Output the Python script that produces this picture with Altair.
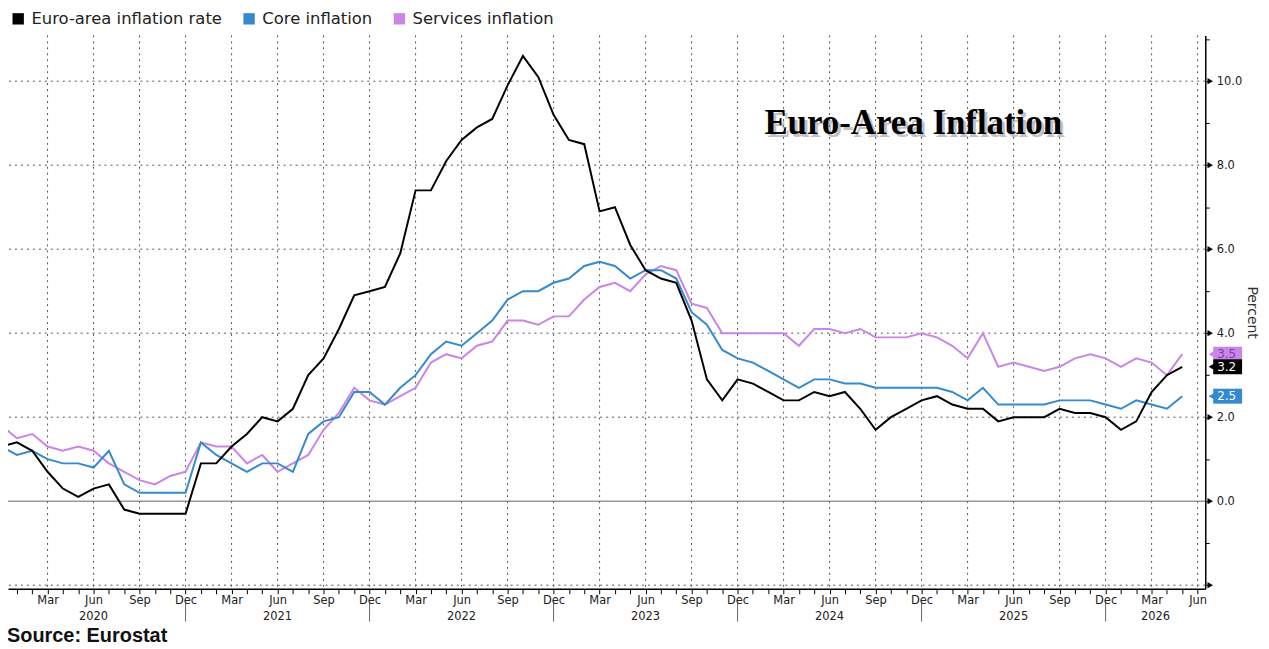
import altair as alt
import pandas as pd

# ---------------- data (monthly, Dec 2019 .. May 2026) ----------------
series_names = ["Euro-area inflation rate", "Core inflation", "Services inflation"]
series_colors = ["#000000", "#3489cf", "#c985e8"]

headline = [1.3,
            1.4, 1.2, 0.7, 0.3, 0.1, 0.3, 0.4, -0.2, -0.3, -0.3, -0.3, -0.3,
            0.9, 0.9, 1.3, 1.6, 2.0, 1.9, 2.2, 3.0, 3.4, 4.1, 4.9, 5.0,
            5.1, 5.9, 7.4, 7.4, 8.1, 8.6, 8.9, 9.1, 9.9, 10.6, 10.1, 9.2,
            8.6, 8.5, 6.9, 7.0, 6.1, 5.5, 5.3, 5.2, 4.3, 2.9, 2.4, 2.9,
            2.8, 2.6, 2.4, 2.4, 2.6, 2.5, 2.6, 2.2, 1.7, 2.0, 2.2, 2.4,
            2.5, 2.3, 2.2, 2.2, 1.9, 2.0, 2.0, 2.0, 2.2, 2.1, 2.1, 2.0,
            1.7, 1.9, 2.6, 3.0, 3.2]
core = [1.3,
        1.1, 1.2, 1.0, 0.9, 0.9, 0.8, 1.2, 0.4, 0.2, 0.2, 0.2, 0.2,
        1.4, 1.1, 0.9, 0.7, 0.9, 0.9, 0.7, 1.6, 1.9, 2.0, 2.6, 2.6,
        2.3, 2.7, 3.0, 3.5, 3.8, 3.7, 4.0, 4.3, 4.8, 5.0, 5.0, 5.2,
        5.3, 5.6, 5.7, 5.6, 5.3, 5.5, 5.5, 5.3, 4.5, 4.2, 3.6, 3.4,
        3.3, 3.1, 2.9, 2.7, 2.9, 2.9, 2.8, 2.8, 2.7, 2.7, 2.7, 2.7,
        2.7, 2.6, 2.4, 2.7, 2.3, 2.3, 2.3, 2.3, 2.4, 2.4, 2.4, 2.3,
        2.2, 2.4, 2.3, 2.2, 2.5]
services = [1.8,
            1.5, 1.6, 1.3, 1.2, 1.3, 1.2, 0.9, 0.7, 0.5, 0.4, 0.6, 0.7,
            1.4, 1.3, 1.3, 0.9, 1.1, 0.7, 0.9, 1.1, 1.7, 2.1, 2.7, 2.4,
            2.3, 2.5, 2.7, 3.3, 3.5, 3.4, 3.7, 3.8, 4.3, 4.3, 4.2, 4.4,
            4.4, 4.8, 5.1, 5.2, 5.0, 5.4, 5.6, 5.5, 4.7, 4.6, 4.0, 4.0,
            4.0, 4.0, 4.0, 3.7, 4.1, 4.1, 4.0, 4.1, 3.9, 3.9, 3.9, 4.0,
            3.9, 3.7, 3.4, 4.0, 3.2, 3.3, 3.2, 3.1, 3.2, 3.4, 3.5, 3.4,
            3.2, 3.4, 3.3, 3.0, 3.5]

quarter_labels = {3: "Mar", 6: "Jun", 9: "Sep", 0: "Dec"}
years = [2020, 2021, 2022, 2023, 2024, 2025, 2026]
y_ticks = [-2, -1, 0, 1, 2, 3, 4, 5, 6, 7, 8, 9, 10, 11]
grid_values = [-2, 2, 4, 6, 8, 10]

# ---------------- layout ----------------
W, H = 1203, 556
X_MIN, X_MAX = 0.42, 78.5
Y_MIN, Y_MAX = -2.085, 11.09
FONT = "DejaVu Sans"

xs = alt.Scale(domain=[X_MIN, X_MAX], nice=False, zero=False)
ys = alt.Scale(domain=[Y_MIN, Y_MAX], nice=False, zero=False)
cs = alt.Scale(domain=series_names, range=series_colors)

n = len(headline)
idx = list(range(n))
all_vals = {"Euro-area inflation rate": headline, "Core inflation": core,
            "Services inflation": services}

label_expr = " : ".join(
    f"datum.value % 12 == {k} ? '{v}'" for k, v in quarter_labels.items()
) + " : ''"

x_axis = alt.Axis(
    values=list(range(1, int(X_MAX) + 1)), tickSize=5, tickColor="black",
    domainColor="black", domainWidth=1.5, labelExpr=label_expr,
    labelFont=FONT, labelFontSize=11.5, labelColor="#222", labelPadding=1,
    labelOverlap=False, labelFlush=False, grid=False, title=None, zindex=1)
y_axis = alt.Axis(
    orient="right", values=y_ticks, tickSize=4, tickColor="black",
    domainColor="black", domainWidth=1.5,
    labelExpr="datum.value >= 0 && datum.value % 2 == 0 ? format(datum.value, '.1f') : ''",
    labelFont=FONT, labelFontSize=11.5, labelColor="#222", labelPadding=7,
    labelOverlap=False, grid=False, title="Percent", titleFont=FONT,
    titleFontSize=14, titleFontWeight="normal", titleColor="#333",
    titlePadding=3, zindex=1)


def X(field):
    return alt.X(field, scale=xs, axis=x_axis)


def Y(field):
    return alt.Y(field, scale=ys, axis=y_axis)


# ---------------- grid ----------------
quarters = [i for i in range(3, int(X_MAX) + 1) if i % 3 == 0]
vgrid = alt.Chart(pd.DataFrame({"q": quarters})).mark_rule(
    color="#555", strokeWidth=1, strokeDash=[2, 4]
).encode(x=X("q:Q"))

hgrid = alt.Chart(pd.DataFrame({"g": grid_values})).mark_rule(
    color="#555", strokeWidth=1, strokeDash=[2, 4]
).encode(y=Y("g:Q"))

zero_line = alt.Chart(pd.DataFrame({"z": [0]})).mark_rule(
    color="#666", strokeWidth=1
).encode(y=Y("z:Q"))

# year separators and year labels under the month labels
year_starts = [12 * k for k in range(len(years))]
sep = alt.Chart(pd.DataFrame({"s": year_starts})).mark_rule(
    color="#666", strokeWidth=1
).encode(x=X("s:Q"), y=alt.value(H + 13), y2=alt.value(H + 33))

year_centers = [min(s + 6, (s + X_MAX) / 2) for s in year_starts]
year_df = pd.DataFrame({"c": year_centers, "yr": [str(y) for y in years]})
year_text = alt.Chart(year_df).mark_text(
    font=FONT, fontSize=11.5, color="#222", baseline="middle"
).encode(x=X("c:Q"), y=alt.value(H + 28), text="yr:N")

# ---------------- lines ----------------
line_layers = []
for name in ["Services inflation", "Core inflation", "Euro-area inflation rate"]:
    d = pd.DataFrame({"i": idx, "v": all_vals[name]})
    line_layers.append(
        alt.Chart(d).mark_line(strokeWidth=2, color=series_colors[series_names.index(name)])
        .encode(x=X("i:Q"), y=Y("v:Q"))
    )

# ---------------- end-value tags ----------------
tag_order = ["Services inflation", "Euro-area inflation rate", "Core inflation"]
tag_df = pd.DataFrame({
    "series": tag_order,
    "v": [all_vals[s][-1] for s in tag_order],
    "lab": [f"{all_vals[s][-1]:.1f}" for s in tag_order],
    "tc": ["#7d3fa0", "#ffffff", "#ffffff"],
})
tag_base = alt.Chart(tag_df)
tag_rect = tag_base.transform_calculate(
    lo="datum.v - 0.178", hi="datum.v + 0.178"
).mark_rect(opacity=1).encode(
    x=alt.value(W + 8), x2=alt.value(W + 37),
    y=Y("lo:Q"), y2="hi:Q",
    color=alt.Color("series:N", scale=cs, legend=alt.Legend(
        orient="none", legendX=2, legendY=-25, direction="horizontal",
        title=None, symbolType="square", symbolSize=130, symbolStrokeWidth=0,
        symbolOpacity=1, labelFont=FONT, labelFontSize=16.5, labelColor="#222",
        labelLimit=400, columnPadding=18, labelOffset=5, padding=0)),
)
tag_tri = tag_base.mark_point(shape="triangle-left", filled=True, size=70, opacity=1).encode(
    x=alt.value(W + 7), y=Y("v:Q"),
    color=alt.Color("series:N", scale=cs, legend=None),
)
tag_txt = tag_base.mark_text(font=FONT, fontSize=12, align="left", baseline="middle").encode(
    x=alt.value(W + 12), y=Y("v:Q"),
    text="lab:N", color=alt.Color("tc:N", scale=None),
)

# y-axis arrow ticks
arrow_vals = [-2, 0, 2, 4, 6, 8, 10]
arrows = alt.Chart(pd.DataFrame({"a": arrow_vals})).mark_point(
    shape="triangle-right", filled=True, size=40, color="black", opacity=1
).encode(x=alt.value(W + 5), y=Y("a:Q"))

# ---------------- annotations ----------------
title_df = pd.DataFrame({"t": ["Euro-Area Inflation"]})
title_kw = dict(font="Liberation Serif", fontWeight="bold", fontSize=35,
                align="left", baseline="alphabetic")
shadow = alt.Chart(title_df).mark_text(color="#777", opacity=0.45, **title_kw).encode(
    x=alt.value(763), y=alt.value(102), text="t:N")
title_txt = alt.Chart(title_df).mark_text(color="#000", **title_kw).encode(
    x=alt.value(760), y=alt.value(99), text="t:N")

source_txt = alt.Chart(pd.DataFrame({"s": ["Source: Eurostat"]})).mark_text(
    font="Liberation Sans", fontWeight="bold", fontSize=20, color="#111",
    align="left", baseline="alphabetic"
).encode(x=alt.value(-1), y=alt.value(H + 54), text="s:N")

chart = alt.layer(
    vgrid, hgrid, zero_line, sep, year_text,
    *line_layers,
    shadow, title_txt,
    arrows, tag_rect, tag_tri, tag_txt, source_txt,
).properties(
    width=W, height=H,
    padding={"left": 0, "top": 26, "right": 56, "bottom": 56},
    autosize=alt.AutoSizeParams(type="none"),
    background="white",
).configure_view(stroke=None)

chart.save("out.html", embed_options={"renderer": "svg", "actions": False})
